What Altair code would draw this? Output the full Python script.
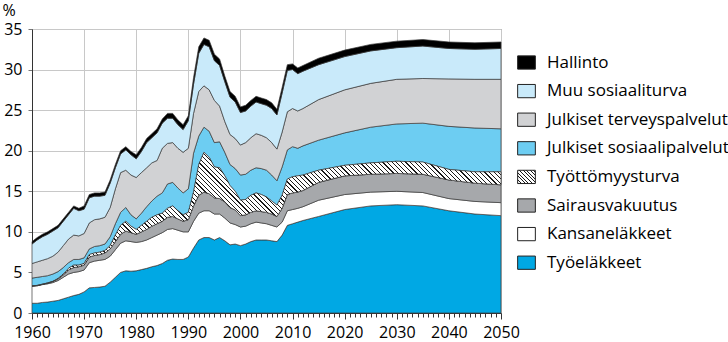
import altair as alt
import pandas as pd

years = list(range(1960, 2013)) + [2015, 2020, 2025, 2030, 2035, 2040, 2045, 2050]

# cumulative upper edge of each band (% of GDP), bottom band first
tyoelakkeet_top = [
    1.2, 1.2, 1.3, 1.35, 1.45, 1.55, 1.75, 1.95, 2.15, 2.3,
    2.6, 3.1, 3.15, 3.2, 3.3, 3.8, 4.4, 5.0, 5.2, 5.15,
    5.2, 5.35, 5.5, 5.7, 5.85, 6.1, 6.5, 6.65, 6.6, 6.6,
    6.9, 8.0, 9.0, 9.3, 9.3, 9.0, 9.3, 8.9, 8.4, 8.5,
    8.3, 8.5, 8.8, 9.0, 9.0, 9.0, 8.9, 8.8, 9.6, 10.8,
    11.0, 11.2, 11.4,
    11.9, 12.75, 13.2, 13.35, 13.2, 12.6, 12.2, 12.0]
kansanelakkeet_top = [
    3.3, 3.35, 3.5, 3.6, 3.75, 4.0, 4.4, 4.8, 5.0, 5.1,
    5.3, 6.2, 6.4, 6.5, 6.6, 7.0, 7.8, 8.6, 8.9, 8.8,
    8.7, 8.8, 9.0, 9.3, 9.6, 9.9, 10.3, 10.4, 10.2, 10.0,
    10.0, 11.3, 12.3, 12.6, 12.6, 12.2, 12.2, 11.7, 11.1, 10.9,
    10.6, 10.7, 11.0, 11.2, 11.1, 11.0, 10.8, 10.6, 11.2, 12.6,
    12.75, 12.9, 13.1,
    13.9, 14.6, 14.9, 15.0, 14.85, 14.1, 13.75, 13.6]
sairausvakuutus_top = [
    3.35, 3.4, 3.55, 3.7, 3.9, 4.2, 4.7, 5.3, 5.6, 5.7,
    5.9, 6.9, 7.1, 7.2, 7.4, 7.9, 8.8, 9.7, 10.1, 9.9,
    9.7, 10.0, 10.3, 10.7, 11.0, 11.3, 11.8, 11.9, 11.6, 11.3,
    11.5, 13.2, 14.5, 14.9, 14.7, 14.2, 14.1, 13.7, 13.0, 12.7,
    12.0, 12.1, 12.4, 12.6, 12.5, 12.4, 12.2, 11.9, 12.9, 14.6,
    14.8, 14.9, 15.1,
    16.1, 16.9, 17.1, 17.2, 17.1, 16.4, 16.0, 15.8]
tyottomyysturva_top = [
    3.35, 3.4, 3.55, 3.7, 3.9, 4.25, 4.8, 5.5, 5.9, 5.9,
    6.1, 7.2, 7.4, 7.5, 7.7, 8.3, 9.6, 10.8, 11.3, 10.7,
    10.3, 10.8, 11.3, 11.8, 12.1, 12.3, 12.9, 13.2, 12.6, 12.1,
    12.4, 14.9, 18.3, 19.8, 19.2, 18.0, 17.9, 16.9, 15.7, 15.0,
    13.9, 14.0, 14.5, 14.8, 14.6, 14.3, 13.8, 13.3, 14.5, 16.5,
    16.8, 16.9, 17.0,
    17.6, 18.2, 18.5, 18.7, 18.6, 17.7, 17.4, 17.4]
sosiaalipalvelut_top = [
    4.3, 4.4, 4.5, 4.6, 4.8, 5.1, 5.6, 6.2, 6.6, 6.6,
    6.8, 7.9, 8.2, 8.3, 8.5, 9.4, 11.0, 12.4, 13.0, 12.1,
    11.6, 12.3, 13.1, 13.8, 14.4, 14.8, 15.9, 16.1, 15.4, 14.8,
    15.3, 19.7, 21.8, 22.9, 22.4, 21.0, 21.1, 19.8, 18.3, 17.8,
    17.0, 17.1, 17.6, 17.9, 17.8, 17.6, 17.0, 16.3, 18.0, 20.1,
    20.5, 20.3, 20.6,
    21.3, 22.2, 22.9, 23.3, 23.4, 23.0, 22.8, 22.7]
terveyspalvelut_top = [
    6.1, 6.3, 6.5, 6.7, 7.0, 7.5, 8.3, 9.1, 9.6, 9.5,
    9.8, 11.1, 11.5, 11.6, 11.8, 13.0, 15.3, 17.3, 17.6, 17.0,
    16.7, 17.3, 17.9, 18.5, 18.8, 20.3, 20.9, 21.0, 20.3, 19.8,
    20.3, 24.6, 27.3, 28.0, 27.5, 26.2, 25.5, 23.6, 22.0, 21.5,
    20.7, 21.0, 21.6, 22.1, 21.9, 21.6, 21.0, 20.2, 22.3, 24.8,
    25.2, 24.9, 25.2,
    26.3, 27.5, 28.3, 28.8, 28.9, 28.85, 28.8, 28.8]
muu_top = [
    8.5, 9.0, 9.4, 9.7, 10.1, 10.5, 11.3, 12.1, 12.9, 12.6,
    12.8, 14.2, 14.4, 14.4, 14.5, 16.0, 17.9, 19.6, 20.1, 19.5,
    19.0, 19.9, 21.0, 21.6, 22.2, 23.4, 24.0, 24.0, 23.2, 22.6,
    23.7, 28.2, 32.0, 33.1, 32.8, 31.1, 30.5, 28.5, 26.6, 26.0,
    24.7, 24.9, 25.5, 26.0, 25.8, 25.6, 25.2, 24.4, 27.1, 29.9,
    30.0, 29.5, 29.8,
    30.6, 31.6, 32.3, 32.7, 32.9, 32.6, 32.5, 32.6]
hallinto_top = [
    8.8, 9.3, 9.7, 10.0, 10.4, 10.8, 11.6, 12.4, 13.2, 12.9,
    13.2, 14.6, 14.8, 14.8, 14.9, 16.4, 18.3, 20.0, 20.5, 19.9,
    19.5, 20.4, 21.5, 22.1, 22.7, 23.9, 24.6, 24.6, 23.8, 23.2,
    24.3, 29.0, 32.8, 33.9, 33.6, 31.9, 31.3, 29.2, 27.3, 26.7,
    25.4, 25.6, 26.2, 26.7, 26.5, 26.3, 25.9, 25.1, 27.8, 30.6,
    30.7, 30.2, 30.5,
    31.4, 32.4, 33.1, 33.5, 33.7, 33.4, 33.3, 33.4]

series_names = ["Työeläkkeet", "Kansaneläkkeet", "Sairausvakuutus", "Työttömyysturva",
                "Julkiset sosiaalipalvelut", "Julkiset terveyspalvelut",
                "Muu sosiaaliturva", "Hallinto"]
tops = [tyoelakkeet_top, kansanelakkeet_top, sairausvakuutus_top, tyottomyysturva_top,
        sosiaalipalvelut_top, terveyspalvelut_top, muu_top, hallinto_top]
series_colors = ["#00a8e4", "#ffffff", "#a6a8ab", "HATCH",
                 "#6dcdf2", "#d1d2d4", "#c9eafa", "#000000"]

y_ticks = [0, 5, 10, 15, 20, 25, 30, 35]

records = []
for i, (name, top) in enumerate(zip(series_names, tops)):
    below = tops[i - 1] if i > 0 else [0] * len(years)
    for yr, lo, hi in zip(years, below, top):
        records.append({"vuosi": yr, "sarja": name, "ala": lo, "yla": hi})
df = pd.DataFrame(records)

W, H = 469, 284
FONT = "Open Sans"
INK = "#1a1a1a"


def stripe_stops(period, frac):
    out = []
    k = 0
    while k * period < 1:
        o = k * period
        o2 = min(o + period * frac, 1.0)
        o3 = min(o + period, 1.0)
        out += [(o, INK), (o2, INK), (o2, "#ffffff"), (o3, "#ffffff")]
        k += 1
    return out


# fine hatch for the plotted band (gradient works in bounding-box units)
hatch_lo = min(sairausvakuutus_top)
hatch_hi = max(tyottomyysturva_top)
bbox_h = (hatch_hi - hatch_lo) * H / 35.0
a = 1.2
b = -a * bbox_h / W
band_period = 4.6 / ((a * a + b * b) / a * W)
hatch_fill = alt.LinearGradient(
    gradient="linear",
    stops=[alt.GradientStop(color=c, offset=o) for o, c in stripe_stops(band_period, 0.26)],
    x1=0, y1=1, x2=a, y2=1 + b)

# coarse hatch for the legend swatch (17.7 x 13.3 px box)
la = 1.12
lb = -la * 0.75
leg_period = 3.6 / ((la * la + lb * lb) / la * 17.7)
leg_stops = ", ".join(
    "{offset: %.4f, color: '%s'}" % (o, c) for o, c in stripe_stops(leg_period, 0.3))
legend_hatch_expr = "{gradient: 'linear', x1: 0, y1: 1, x2: %.3f, y2: %.3f, stops: [%s]}" % (
    la, 1 + lb, leg_stops)

legend_order = list(reversed(series_names))
legend_colors = [alt.ExprRef(expr=legend_hatch_expr) if c == "HATCH" else c
                 for c in reversed(series_colors)]

x_enc = alt.X(
    "vuosi:Q",
    scale=alt.Scale(domain=[1960, 2050], nice=False, zero=False),
    axis=alt.Axis(
        values=list(range(1960, 2051)),
        format="d",
        labelExpr="datum.value % 10 === 0 ? datum.label : ''",
        tickSize={"condition": {"test": "datum.value % 10 === 0", "value": 6}, "value": 4},
        gridOpacity={"condition": {"test": "datum.value % 10 === 0", "value": 1}, "value": 0},
        grid=True, gridColor="#c8c8c8", gridWidth=1,
        title=None, labelFont=FONT, labelFontSize=16, labelColor="#000",
        labelPadding=5, labelOverlap=False, labelFlush=False,
        domainColor="#333", tickColor="#333", tickWidth=1,
    ),
)
y_enc = alt.Y(
    "yla:Q", stack=None,
    scale=alt.Scale(domain=[0, 35], nice=False, zero=True),
    axis=alt.Axis(
        values=y_ticks, grid=True, gridColor="#c8c8c8", gridWidth=1,
        tickSize=4, tickColor="#777", domainColor="#333",
        labelFont=FONT, labelFontSize=16, labelColor="#000", labelPadding=6,
        labelFlush=False,
        title="%", titleAngle=0, titleFont=FONT, titleFontSize=16,
        titleFontWeight="normal", titleAlign="left", titleBaseline="top",
        titleX=-30, titleY=-27, titleColor="#000",
    ),
)
y2_enc = alt.Y2("ala:Q")

areas = alt.Chart(df).mark_area(
    stroke="#3a3a3a", strokeWidth=0.7, interpolate="linear", opacity=1
).encode(
    x=x_enc, y=y_enc, y2=y2_enc,
    color=alt.Color(
        "sarja:N",
        scale=alt.Scale(domain=legend_order, range=legend_colors),
        legend=alt.Legend(
            title=None, orient="none", legendX=485, legendY=24,
            symbolType="M-1,-0.75H1V0.75H-1Z", symbolSize=313,
            symbolStrokeColor="#222", symbolStrokeWidth=1, symbolOpacity=1,
            labelFont=FONT, labelFontSize=17, labelColor="#000",
            labelOffset=11, rowPadding=9.6, padding=0, labelLimit=300,
        ),
    ),
)

hatch = alt.Chart(df).transform_filter(
    alt.datum.sarja == "Työttömyysturva"
).mark_area(
    fill=hatch_fill, stroke="#3a3a3a", strokeWidth=0.7, interpolate="linear"
).encode(x=x_enc, y=y_enc, y2=y2_enc)

chart = alt.layer(areas, hatch).properties(
    width=W, height=H,
    autosize="none",
    padding={"left": 32, "top": 29, "right": 728 - 32 - W, "bottom": 342 - 29 - H},
).configure_view(stroke="#777", strokeWidth=1)

chart.save("out.html", embed_options={"renderer": "svg", "actions": False})
